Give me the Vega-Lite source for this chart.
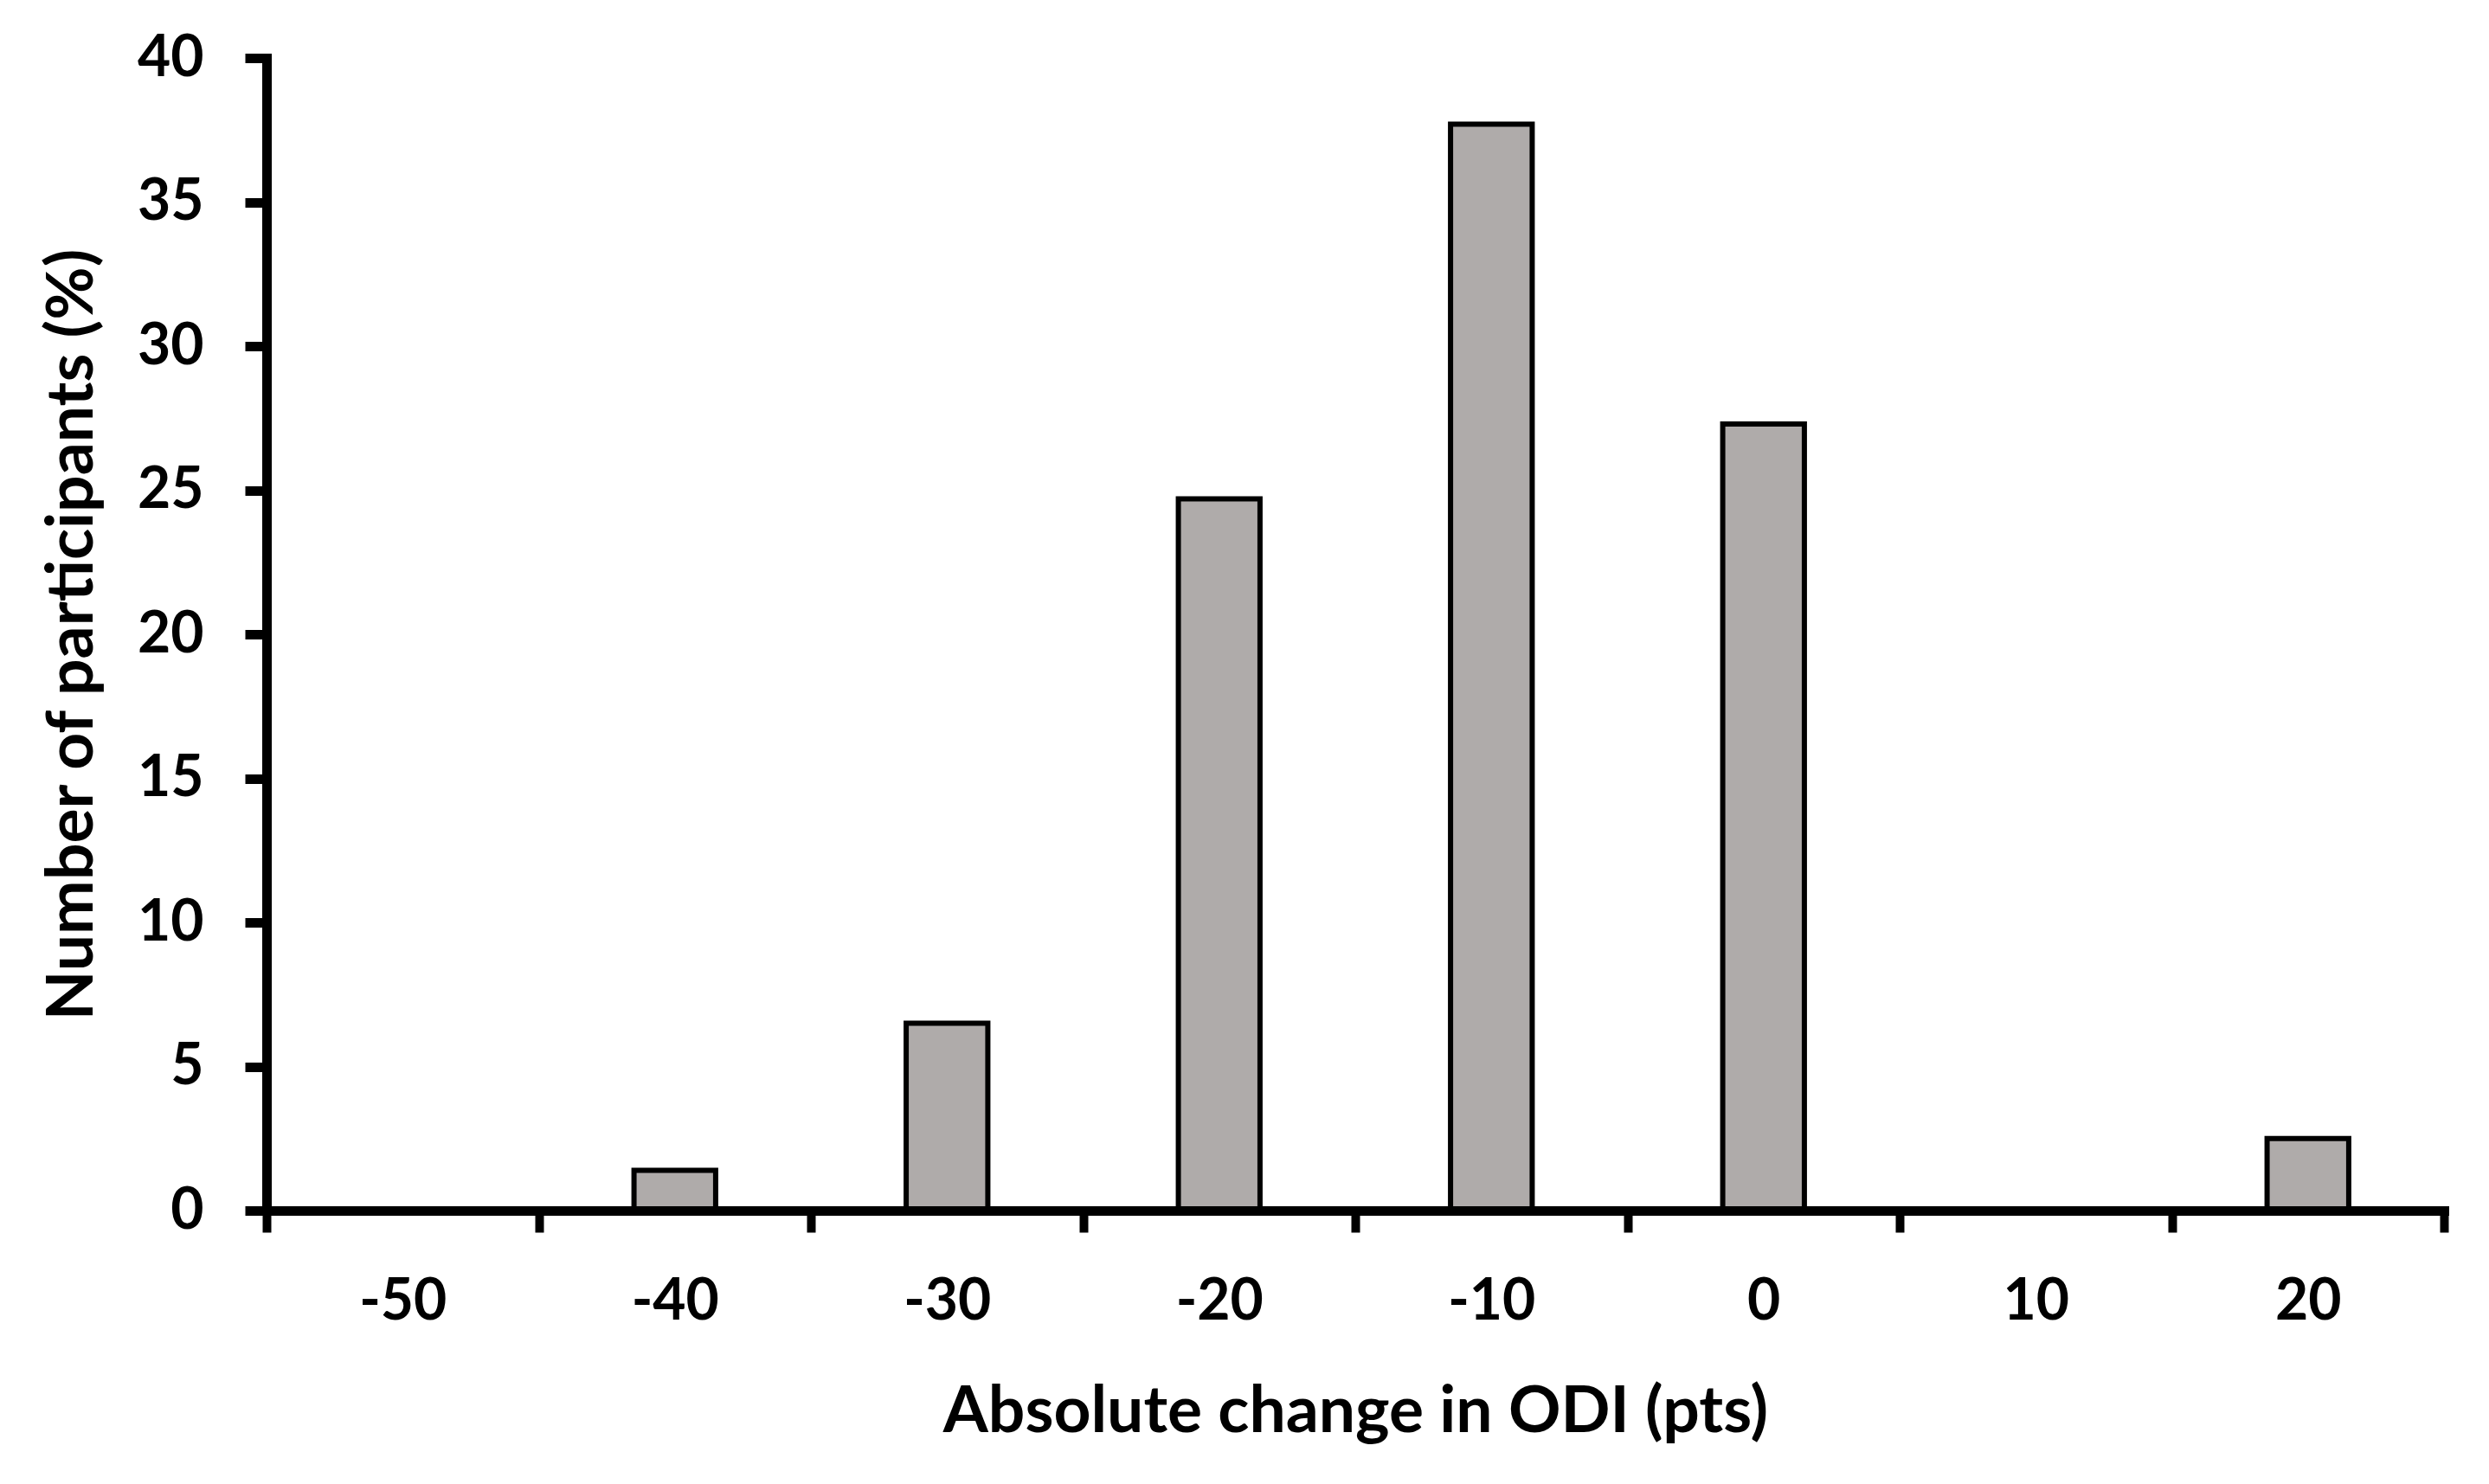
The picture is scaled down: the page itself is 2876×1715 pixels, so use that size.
{
  "$schema": "https://vega.github.io/schema/vega-lite/v6.json",
  "width": 2516,
  "height": 1332,
  "autosize": {"type": "none"},
  "padding": {"left": 308, "top": 67, "right": 52, "bottom": 316},
  "background": "white",
  "data": {
    "values": [
      {"change": -40, "pct": 1.4},
      {"change": -30, "pct": 6.5},
      {"change": -20, "pct": 24.7},
      {"change": -10, "pct": 37.7},
      {"change": 0, "pct": 27.3},
      {"change": 20, "pct": 2.5}
    ]
  },
  "mark": {"type": "bar", "width": {"band": 0.3}, "fill": "#afabaa", "stroke": "#000000", "strokeWidth": 6},
  "encoding": {
    "x": {
      "field": "change",
      "type": "ordinal",
      "scale": {"domain": [-50, -40, -30, -20, -10, 0, 10, 20], "paddingInner": 0, "paddingOuter": 0},
      "axis": {
        "title": "Absolute change  in ODI (pts)",
        "labelAngle": 0,
        "tickBand": "extent",
        "tickSize": 25,
        "tickWidth": 10,
        "tickColor": "#000",
        "domainColor": "#000",
        "domainWidth": 11,
        "domainCap": "square",
        "labelFont": "Lato",
        "labelFontSize": 66,
        "labelFontWeight": "bold",
        "labelColor": "#000",
        "labelPadding": 48,
        "titleFont": "Lato",
        "titleFontSize": 75,
        "titleFontWeight": "bold",
        "titleColor": "#000",
        "titlePadding": 58,
        "zindex": 1
      }
    },
    "y": {
      "field": "pct",
      "type": "quantitative",
      "scale": {"domain": [0, 40], "nice": false},
      "axis": {
        "title": "Number of participants  (%)",
        "values": [0, 5, 10, 15, 20, 25, 30, 35, 40],
        "grid": false,
        "tickSize": 25,
        "tickWidth": 11,
        "tickColor": "#000",
        "domainColor": "#000",
        "domainWidth": 11,
        "domainCap": "square",
        "labelFont": "Lato",
        "labelFontSize": 66,
        "labelFontWeight": "bold",
        "labelColor": "#000",
        "labelPadding": 48,
        "titleFont": "Lato",
        "titleFontSize": 75,
        "titleFontWeight": "bold",
        "titleColor": "#000",
        "titlePadding": 36,
        "zindex": 1
      }
    }
  },
  "config": {"view": {"stroke": null}}
}
